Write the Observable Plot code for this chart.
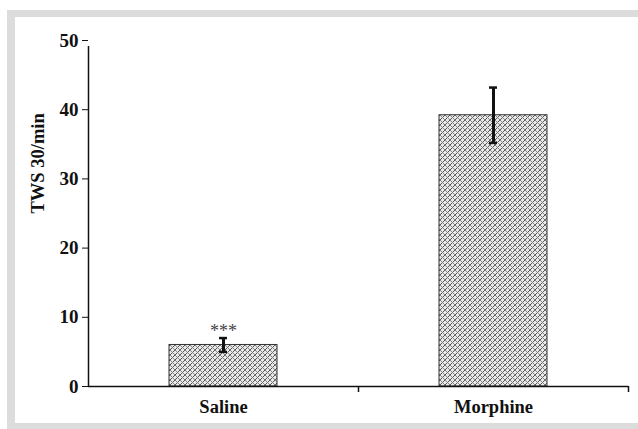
<!DOCTYPE html>
<html>
<head>
<meta charset="utf-8">
<script src="https://cdn.jsdelivr.net/npm/d3@7"></script>
<script src="https://cdn.jsdelivr.net/npm/@observablehq/plot@0.6"></script>
<style>
  html, body { margin: 0; padding: 0; background: #ffffff; }
  #wrap { position: relative; width: 638px; height: 429px; overflow: hidden; }
  #frame { position: absolute; left: 7px; top: 10px; right: -10px; bottom: 0px;
           border-top: 7px solid #dcdcdc; border-left: 8px solid #dcdcdc; border-bottom: 6px solid #dcdcdc; }
  #chart { position: absolute; left: 0; top: 0; }
  svg { font-family: "Liberation Serif", "Times New Roman", serif; }
</style>
</head>
<body>
<div id="wrap"><div id="frame"></div><div id="chart"></div></div>
<script>
const categories = ["Saline", "Morphine"];
const means = [6, 39.2];
const errLow = [5, 35.2];
const errHigh = [7, 43.2];
const significance = ["***", ""];
const yTicks = [0, 10, 20, 30, 40, 50];
const yLabel = "TWS 30/min";

const data = categories.map((c, i) => ({cat: c, mean: means[i], lo: errLow[i], hi: errHigh[i], sig: significance[i]}));

const chart = Plot.plot({
  width: 638,
  height: 429,
  marginLeft: 88,
  marginRight: 10,
  marginTop: 40,
  marginBottom: 43,
  style: {background: "transparent", fontFamily: "Liberation Serif, Times New Roman, serif"},
  x: {domain: categories, paddingInner: 0.6, paddingOuter: 0.3, label: null},
  y: {domain: [0, 50], label: null},
  marks: [
    Plot.barY(data, {x: "cat", y: "mean", fill: "url(#hatch)", stroke: "#333", strokeWidth: 1}),
    // error bars
    Plot.ruleX(data, {x: "cat", y1: "lo", y2: "hi", stroke: "#111", strokeWidth: 3}),
    Plot.tickY(data, {x: "cat", y: "lo", stroke: "#111", strokeWidth: 2.5, insetLeft: 50, insetRight: 50}),
    Plot.tickY(data, {x: "cat", y: "hi", stroke: "#111", strokeWidth: 2.5, insetLeft: 50, insetRight: 50}),
    Plot.text(data, {x: "cat", y: "hi", text: "sig", dy: -7, fontSize: 18, fill: "#444", fontWeight: "normal"}),
    // x axis baseline
    Plot.ruleY([0], {stroke: "#111", strokeWidth: 1.5}),
    // y axis line (left edge of first category slot)
    Plot.ruleX([categories[0]], {dx: -135, y1: yTicks[0], y2: yTicks[yTicks.length - 1], insetBottom: -6, stroke: "#111", strokeWidth: 1.5}),
    // category boundary ticks
    Plot.ruleX([categories[0]], {dx: 135, y1: yTicks[0], y2: yTicks[0], insetBottom: -6, stroke: "#111", strokeWidth: 1.5}),
    Plot.ruleX([categories[1]], {dx: 135, y1: yTicks[0], y2: yTicks[0], insetBottom: -6, stroke: "#111", strokeWidth: 1.5}),
    Plot.axisY({ticks: yTicks, tickSize: 6, tickPadding: 4, fontSize: 19, fontWeight: "bold", label: null, stroke: "#111"}),
    Plot.axisX({tickSize: 0, tickPadding: 13, fontSize: 18.5, fontWeight: "bold", label: null}),
    Plot.text([yLabel], {frameAnchor: "left", rotate: -90, dx: -50, fontSize: 18.5, fontWeight: "bold", fill: "#111"})
  ]
});

const svg = d3.select(chart);
const defs = svg.insert("defs", ":first-child");
const pat = defs.append("pattern")
  .attr("id", "hatch")
  .attr("patternUnits", "userSpaceOnUse")
  .attr("width", 5).attr("height", 5);
pat.append("rect").attr("width", 5).attr("height", 5).attr("fill", "#e9e9e9");
pat.append("path").attr("d", "M-1,1 L1,-1 M0,5 L5,0 M4,6 L6,4").attr("stroke", "#555").attr("stroke-width", 1);
pat.append("path").attr("d", "M-1,4 L1,6 M0,0 L5,5 M4,-1 L6,1").attr("stroke", "#7a7a7a").attr("stroke-width", 0.9);

svg.selectAll("g[aria-label='y-axis tick label'] text, g[aria-label='x-axis tick label'] text").attr("fill", "#111");

document.getElementById("chart").appendChild(chart);
</script>
</body>
</html>
